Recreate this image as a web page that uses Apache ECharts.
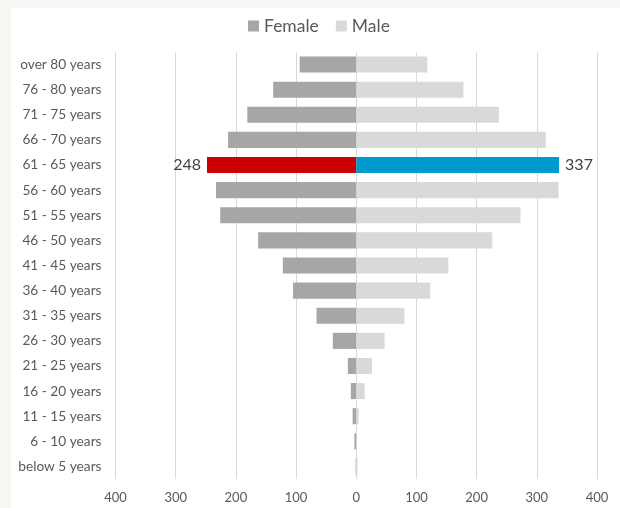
<!DOCTYPE html>
<html><head><meta charset="utf-8">
<script src="https://cdn.jsdelivr.net/npm/echarts@6/dist/echarts.min.js"></script>
<style>
html,body{margin:0;padding:0;background:#f6f6f2;}
#bg{position:absolute;left:11px;top:8px;width:609px;height:500px;background:#ffffff;}
#chart{position:absolute;left:0;top:0;width:620px;height:508px;}
</style></head>
<body><div id="bg"></div><div id="chart"></div>
<script>
const categories = ['over 80 years','76 - 80 years','71 - 75 years','66 - 70 years','61 - 65 years','56 - 60 years','51 - 55 years','46 - 50 years','41 - 45 years','36 - 40 years','31 - 35 years','26 - 30 years','21 - 25 years','16 - 20 years','11 - 15 years','6 - 10 years','below 5 years'];
const female = [94,138,181,213,248,233,226,163,122,105,66,39,14,9,6,3,1];
const male = [118,178,237,315,337,336,273,226,153,123,80,47,26,14,4,1,2];
const highlightCategory = '61 - 65 years';
const xTicks = [-400,-300,-200,-100,0,100,200,300,400];

const hi = categories.indexOf(highlightCategory);
const femaleData = female.map((v,i)=> i===hi ? {value:-v, itemStyle:{color:'#cc0000'}, label:{show:true}} : -v);
const maleData = male.map((v,i)=> i===hi ? {value:v, itemStyle:{color:'#0099cc'}, label:{show:true}} : v);

const chart = echarts.init(document.getElementById('chart'));
chart.setOption({
  animation:false,
  textStyle:{fontFamily:'Lato'},
  legend:{top:12,left:243,icon:'rect',itemWidth:11,itemHeight:11,itemGap:17,
    textStyle:{fontSize:17.5,color:'#595959',fontFamily:'Lato'},data:['Female','Male']},
  grid:{left:115.5,right:23,top:52,bottom:29,containLabel:false},
  xAxis:{type:'value',min:xTicks[0],max:xTicks[xTicks.length-1],interval:100,
    axisLine:{show:false},axisTick:{show:false},
    splitLine:{lineStyle:{color:'#d9d9d9',width:1}},
    axisLabel:{formatter:v=>String(Math.abs(v)),color:'#595959',fontSize:13,margin:12,fontFamily:'Lato'}},
  yAxis:{type:'category',data:categories,inverse:true,
    axisLine:{show:false},axisTick:{show:false},
    axisLabel:{color:'#595959',fontSize:13.7,margin:14,fontFamily:'Lato'}},
  series:[
    {name:'Female',type:'bar',stack:'total',barWidth:'64%',data:femaleData,
      itemStyle:{color:'#a6a6a6'},
      label:{show:false,position:'left',distance:6,formatter:p=>String(Math.abs(p.value)),color:'#404040',fontSize:16,fontFamily:'Lato'}},
    {name:'Male',type:'bar',stack:'total',barWidth:'64%',data:maleData,
      itemStyle:{color:'#d9d9d9'},
      label:{show:false,position:'right',distance:6,formatter:p=>String(Math.abs(p.value)),color:'#404040',fontSize:16,fontFamily:'Lato'}}
  ]
});
</script></body></html>
